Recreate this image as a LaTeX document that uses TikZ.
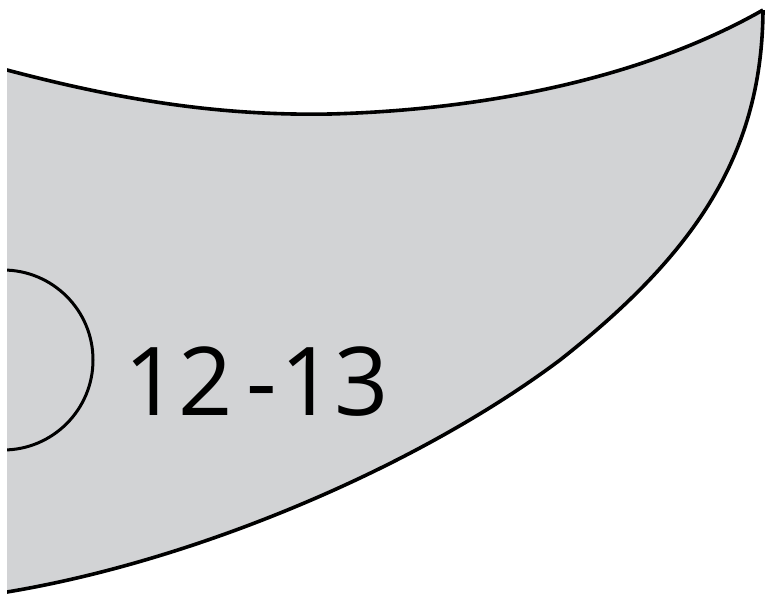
\documentclass[tikz,border=0pt]{standalone}
\usepackage{fontspec}
\setmainfont{Open Sans}
\usetikzlibrary{positioning}
\definecolor{bladegray}{RGB}{210,211,213}
\begin{document}
\begin{tikzpicture}[x=1pt, y=-1pt, line join=round]
\tikzset{blade/.style={fill=bladegray, draw=none}, edge/.style={draw=black, line width=3.6pt}, ring/.style={draw=black, line width=3pt}, lbl/.style={font=\fontsize{95}{95}\selectfont, inner sep=0, anchor=base west}}
\useasboundingbox (0,0) rectangle (768,603);
\coordinate (TL) at (7,70); \coordinate (TR) at (763,10); \coordinate (BL) at (7,592);
\begin{scope}
\clip (7,0) rectangle (768,603);
\fill[blade] (TL) .. controls (120,100) and (220,116) .. (330,114) .. controls (480,110) and (640,80) .. (TR) .. controls (762,150) and (700,250) .. (560,360) .. controls (420,465) and (200,560) .. (BL) -- cycle;
\draw[edge] (0,68) -- (TL) .. controls (120,100) and (220,116) .. (330,114) .. controls (480,110) and (640,80) .. (TR);
\draw[edge] (TR) .. controls (762,150) and (700,250) .. (560,360) .. controls (420,465) and (200,560) .. (BL) -- (0,593);
\draw[ring] (3,360) circle (90);
\end{scope}
\node[lbl] (range) at (124,415) {12\kern14pt-\kern3pt13};
\end{tikzpicture}
\end{document}
